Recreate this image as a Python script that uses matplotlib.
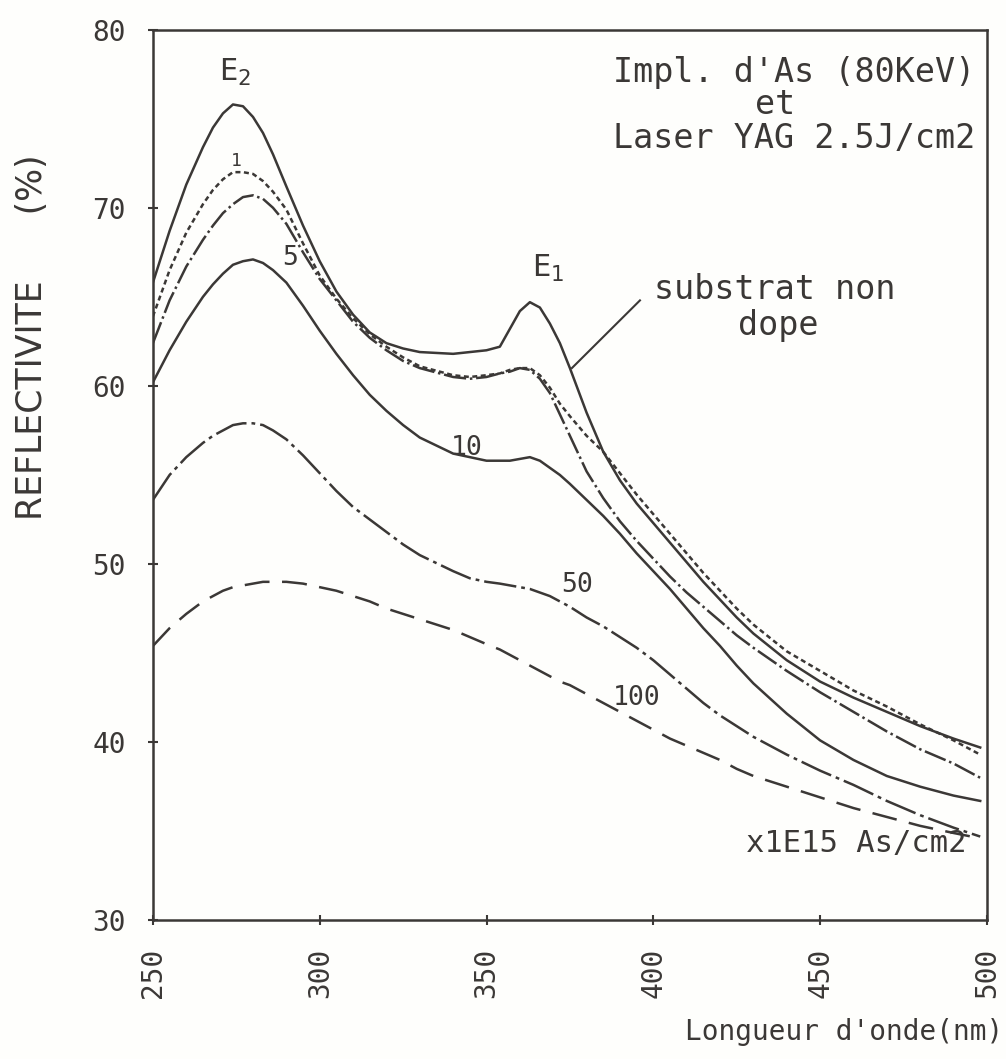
import numpy as np
import matplotlib.pyplot as plt

plt.rcParams["font.family"] = ["DejaVu Sans Mono", "DejaVu Sans"]

# longueur d'onde (nm)
wl = [250, 255, 260, 265, 268, 271, 274, 277, 280, 283, 286, 290, 295, 300, 305, 310,
      315, 320, 325, 330, 340, 345, 350, 354, 357, 360, 363, 366, 369, 372, 375, 380,
      385, 390, 395, 400, 405, 410, 415, 420, 425, 430, 440, 450, 460, 470, 480, 490, 498]

# substrat non dope
r_sub = [65.8, 68.7, 71.3, 73.4, 74.5, 75.3, 75.8, 75.7, 75.1, 74.2, 73.0, 71.2, 69.0, 67.0, 65.3, 64.0,
         63.0, 62.4, 62.1, 61.9, 61.8, 61.9, 62.0, 62.2, 63.2, 64.2, 64.7, 64.4, 63.5, 62.4, 61.0, 58.5,
         56.3, 54.7, 53.4, 52.3, 51.2, 50.1, 49.0, 48.0, 47.0, 46.1, 44.6, 43.4, 42.5, 41.7, 40.9, 40.2, 39.7]
# 1E15
r_1 = [63.9, 66.5, 68.6, 70.2, 71.0, 71.6, 72.0, 72.0, 71.9, 71.5, 70.9, 69.9, 68.0, 66.2, 64.9, 63.8,
       62.9, 62.2, 61.6, 61.1, 60.6, 60.5, 60.6, 60.7, 60.9, 61.0, 61.0, 60.6, 59.9, 59.0, 58.3, 57.2,
       56.3, 55.1, 53.9, 52.8, 51.7, 50.6, 49.5, 48.5, 47.5, 46.6, 45.1, 44.0, 42.9, 42.0, 41.0, 40.1, 39.3]
# 5E15
r_5 = [62.4, 64.8, 66.7, 68.2, 69.0, 69.7, 70.2, 70.6, 70.7, 70.5, 70.0, 69.1, 67.5, 66.0, 64.8, 63.6,
       62.7, 62.0, 61.4, 61.0, 60.5, 60.4, 60.5, 60.7, 60.8, 61.0, 60.9, 60.4, 59.6, 58.4, 57.2, 55.2,
       53.7, 52.4, 51.3, 50.3, 49.3, 48.4, 47.6, 46.8, 46.0, 45.3, 44.0, 42.8, 41.7, 40.6, 39.6, 38.8, 38.0]
# 10E15
r_10 = [60.2, 62.0, 63.6, 65.0, 65.7, 66.3, 66.8, 67.0, 67.1, 66.9, 66.5, 65.8, 64.5, 63.1, 61.8, 60.6,
        59.5, 58.6, 57.8, 57.1, 56.2, 56.0, 55.8, 55.8, 55.8, 55.9, 56.0, 55.8, 55.4, 55.0, 54.5, 53.6,
        52.7, 51.7, 50.6, 49.6, 48.6, 47.5, 46.4, 45.4, 44.3, 43.3, 41.6, 40.1, 39.0, 38.1, 37.5, 37.0, 36.7]
# 50E15
r_50 = [53.6, 55.0, 56.0, 56.8, 57.2, 57.5, 57.8, 57.9, 57.9, 57.8, 57.5, 57.0, 56.1, 55.1, 54.1, 53.2,
        52.5, 51.8, 51.1, 50.5, 49.6, 49.2, 49.0, 48.9, 48.8, 48.7, 48.6, 48.4, 48.2, 47.9, 47.6, 47.0,
        46.5, 45.9, 45.3, 44.6, 43.8, 43.0, 42.2, 41.5, 40.9, 40.3, 39.3, 38.4, 37.6, 36.7, 35.9, 35.2, 34.7]
# 100E15
r_100 = [45.4, 46.4, 47.2, 47.9, 48.2, 48.5, 48.7, 48.8, 48.9, 49.0, 49.0, 49.0, 48.9, 48.7, 48.5, 48.2,
         47.9, 47.5, 47.2, 46.9, 46.3, 45.9, 45.5, 45.2, 44.9, 44.6, 44.3, 44.0, 43.7, 43.4, 43.2, 42.7,
         42.2, 41.7, 41.2, 40.7, 40.2, 39.8, 39.4, 39.0, 38.5, 38.1, 37.5, 36.9, 36.3, 35.8, 35.3, 34.9, 34.6]

ink = "#3b3836"

fig = plt.figure(figsize=(10.06, 10.59), dpi=100)
fig.patch.set_facecolor("#fefefc")
ax = fig.add_axes([0.152, 0.131, 0.829, 0.841])
ax.set_facecolor("#fefefc")

lw = 1.8
ax.plot(wl, r_sub, color=ink, lw=lw)
ax.plot(wl, r_1, color=ink, lw=lw, linestyle=(0, (2, 1.4)))
ax.plot(wl, r_5, color=ink, lw=lw, linestyle=(0, (9, 1.5, 1, 1.5)))
ax.plot(wl, r_10, color=ink, lw=lw)
ax.plot(wl, r_50, color=ink, lw=lw, linestyle=(0, (13, 2, 1.5, 2)))
ax.plot(wl, r_100, color=ink, lw=lw, linestyle=(0, (10, 5)))

ax.set_xlim(250, 500)
ax.set_ylim(30, 80)
ax.set_xticks([250, 300, 350, 400, 450, 500])
ax.set_yticks([30, 40, 50, 60, 70, 80])
ax.tick_params(direction="inout", length=7, width=1.5, color=ink, labelcolor=ink, labelsize=20, pad=16)
plt.setp(ax.get_xticklabels(), rotation=90, va="top")
for s in ax.spines.values():
    s.set_color(ink)
    s.set_linewidth(1.8)

fs = 24
ax.text(274.5, 77.6, "E$_2$", fontsize=22, color=ink, ha="center", va="center")
ax.text(368.5, 66.6, "E$_1$", fontsize=22, color=ink, ha="center", va="center")
ax.text(275, 72.6, "1", fontsize=13, color=ink, ha="center", va="center")
ax.text(291, 67.2, "5", fontsize=19, color=ink, ha="center", va="center")
ax.text(344, 56.5, "10", fontsize=19, color=ink, ha="center", va="center")
ax.text(377, 48.8, "50", fontsize=19, color=ink, ha="center", va="center")
ax.text(395, 42.5, "100", fontsize=19, color=ink, ha="center", va="center")

ax.text(436.4, 65.4, "substrat non", fontsize=fs, color=ink, ha="center", va="center")
ax.text(437.4, 63.4, "dope", fontsize=fs, color=ink, ha="center", va="center")
ax.plot([396, 375.6], [64.8, 61.0], color=ink, lw=1.5)

ax.text(496.4, 77.6, "Impl. d'As (80KeV)", fontsize=fs, color=ink, ha="right", va="center")
ax.text(436.4, 75.8, "et", fontsize=fs, color=ink, ha="center", va="center")
ax.text(496.4, 73.9, "Laser YAG 2.5J/cm2", fontsize=fs, color=ink, ha="right", va="center")
ax.text(494, 34.3, "x1E15 As/cm2", fontsize=22, color=ink, ha="right", va="center")

fig.text(0.032, 0.682, "REFLECTIVITE      (%)", rotation=90, fontsize=25, color=ink,
         ha="center", va="center", family="DejaVu Sans")
fig.text(0.997, 0.0255, "Longueur d'onde(nm)", fontsize=20, color=ink, ha="right", va="center")

fig.savefig("out.png", dpi=100, facecolor=fig.get_facecolor())
